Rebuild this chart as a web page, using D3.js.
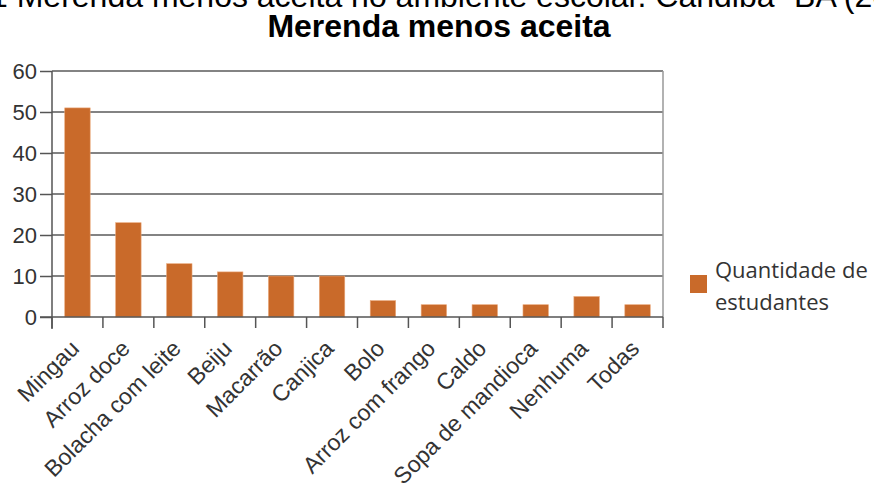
<!DOCTYPE html>
<html>
<head>
<meta charset="utf-8">
<script src="https://cdn.jsdelivr.net/npm/d3@7"></script>
<style>
  html, body { margin: 0; padding: 0; background: #fff; }
  svg { display: block; }
</style>
</head>
<body>
<svg id="chart" width="874" height="493"></svg>
<script>
// Merenda menos aceita — number of students per item
const categories = ["Mingau", "Arroz doce", "Bolacha com leite", "Beiju", "Macarrão", "Canjica",
  "Bolo", "Arroz com frango", "Caldo", "Sopa de mandioca", "Nenhuma", "Todas"];
const students = [51, 23, 13, 11, 10, 10, 4, 3, 3, 3, 5, 3];
const yTicks = [0, 10, 20, 30, 40, 50, 60];
const seriesName = ["Quantidade de", "estudantes"];
const captionText = "1 Merenda menos aceita no ambiente escolar. Candiba- BA (2015)";
const titleText = "Merenda menos aceita";

const svg = d3.select("#chart");
const margin = { left: 52, top: 71, right: 663, bottom: 317 };
const barColor = "#c96a2a";
const gridColor = "#5a5a5a";
const sans = "Liberation Sans, Arial, sans-serif";

const x = d3.scaleBand().domain(categories).range([margin.left, margin.right]).paddingInner(0.5).paddingOuter(0.25);
const y = d3.scaleLinear().domain([0, 60]).range([margin.bottom, margin.top]);

// caption line running above the page edge
svg.append("text")
  .attr("x", -10).attr("y", 7)
  .attr("font-family", sans)
  .attr("font-size", 32)
  .attr("fill", "#000")
  .text(captionText);

svg.append("text")
  .attr("x", 439).attr("y", 37)
  .attr("text-anchor", "middle")
  .attr("font-family", sans)
  .attr("font-weight", "bold")
  .attr("font-size", 32)
  .attr("fill", "#000")
  .text(titleText);

// horizontal gridlines
svg.append("g")
  .selectAll("line")
  .data(yTicks.filter(d => d > 0))
  .join("line")
  .attr("x1", margin.left).attr("x2", margin.right)
  .attr("y1", d => y(d)).attr("y2", d => y(d))
  .attr("stroke", gridColor).attr("stroke-width", 1.6);

// right frame edge
svg.append("line")
  .attr("x1", margin.right).attr("x2", margin.right)
  .attr("y1", y(60)).attr("y2", y(0))
  .attr("stroke", "#999").attr("stroke-width", 1.5);

// bars
svg.append("g")
  .selectAll("rect")
  .data(categories.map((c, i) => ({ c, v: students[i] })))
  .join("rect")
  .attr("x", d => x(d.c))
  .attr("width", x.bandwidth())
  .attr("y", d => y(d.v))
  .attr("height", d => y(0) - y(d.v))
  .attr("fill", barColor)
  .attr("stroke", "#eaa97c").attr("stroke-width", 0.6);

// y axis
const yAxis = d3.axisLeft(y).tickValues(yTicks).tickSize(12).tickPadding(3);
const gy = svg.append("g").attr("transform", `translate(${margin.left},0)`).call(yAxis);
gy.select(".domain").attr("stroke", "#555").attr("stroke-width", 1.5).attr("d", `M0,${y(60)}V${y(0) + 12}`);
gy.selectAll(".tick line").attr("stroke", "#555").attr("stroke-width", 1.5);
gy.selectAll(".tick text")
  .attr("font-family", sans)
  .attr("font-size", 22)
  .attr("fill", "#333");

// x axis: ticks on category boundaries
const boundaries = d3.range(categories.length + 1).map(i => margin.left + i * x.step());
svg.append("line")
  .attr("x1", margin.left - 12).attr("x2", margin.right)
  .attr("y1", y(0)).attr("y2", y(0))
  .attr("stroke", "#555").attr("stroke-width", 1.5);
svg.append("g")
  .selectAll("line")
  .data(boundaries)
  .join("line")
  .attr("x1", d => d).attr("x2", d => d)
  .attr("y1", y(0)).attr("y2", y(0) + 11)
  .attr("stroke", "#555").attr("stroke-width", 1.5);

svg.append("g")
  .selectAll("text")
  .data(categories)
  .join("text")
  .attr("transform", d => `translate(${x(d) + x.bandwidth() / 2 + 3},${y(0) + 33}) rotate(-45)`)
  .attr("text-anchor", "end")
  .attr("font-family", sans)
  .attr("font-size", 23)
  .attr("fill", "#333")
  .text(d => d);

// legend
const lg = svg.append("g");
lg.append("rect").attr("x", 690).attr("y", 275).attr("width", 17).attr("height", 18).attr("fill", barColor);
lg.selectAll("text")
  .data(seriesName)
  .join("text")
  .attr("x", 715)
  .attr("y", (d, i) => 278 + i * 32)
  .attr("font-family", "Open Sans, sans-serif")
  .attr("font-size", 22)
  .attr("fill", "#333")
  .text(d => d);
</script>
</body>
</html>
